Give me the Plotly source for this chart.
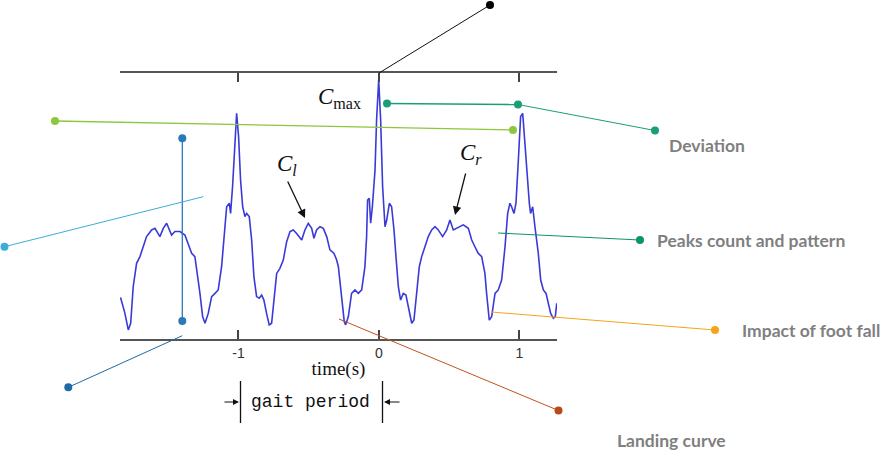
import plotly.graph_objects as go

# ---------------- data ----------------
time_s = [-1.839, -1.808, -1.784, -1.767, -1.749, -1.725, -1.701, -1.677, -1.654, -1.618,
          -1.594, -1.559, -1.535, -1.511, -1.488, -1.476, -1.452, -1.416, -1.381, -1.357,
          -1.333, -1.310, -1.293, -1.274, -1.255, -1.238, -1.215, -1.191, -1.167, -1.144,
          -1.120, -1.096, -1.084, -1.065, -1.056, -1.042, -1.025, -1.013, -0.999, -0.985,
          -0.970, -0.954, -0.942, -0.923, -0.906, -0.890, -0.871, -0.852, -0.835, -0.819,
          -0.800, -0.781, -0.764, -0.747, -0.728, -0.705, -0.681, -0.657, -0.633, -0.610,
          -0.586, -0.550, -0.527, -0.503, -0.479, -0.463, -0.444, -0.420, -0.396, -0.372,
          -0.349, -0.320, -0.301, -0.289, -0.278, -0.261, -0.247, -0.237, -0.218, -0.195,
          -0.171, -0.147, -0.123, -0.100, -0.088, -0.081, -0.069, -0.059, -0.047, -0.028,
          -0.017, -0.002, 0.012, 0.026, 0.043, 0.055, 0.074, 0.090, 0.107, 0.121,
          0.138, 0.154, 0.173, 0.192, 0.209, 0.233, 0.249, 0.268, 0.287, 0.304,
          0.327, 0.351, 0.375, 0.399, 0.422, 0.453, 0.482, 0.505, 0.529, 0.553,
          0.577, 0.600, 0.636, 0.660, 0.683, 0.707, 0.731, 0.754, 0.766, 0.785,
          0.802, 0.826, 0.849, 0.873, 0.897, 0.916, 0.932, 0.944, 0.961, 0.975,
          0.992, 1.008, 1.023, 1.039, 1.056, 1.070, 1.079, 1.094, 1.110, 1.134,
          1.151, 1.170, 1.189, 1.205, 1.222, 1.241, 1.255, 1.265]
amplitude = [15.6, 9.6, 3.4, 5.9, 19.6, 28.4, 30.9, 34.6, 38.4, 40.9,
             41.5, 38.4, 41.5, 43.4, 40.9, 39.0, 40.3, 40.3, 39.0, 35.3,
             32.1, 30.9, 24.6, 17.1, 8.4, 5.9, 9.6, 15.9, 17.1, 18.4,
             27.1, 40.9, 49.6, 50.9, 47.1, 57.1, 75.9, 84.6, 75.9, 59.6,
             49.6, 45.9, 47.1, 45.9, 37.1, 23.4, 15.9, 15.3, 16.5, 14.6,
             9.6, 5.3, 5.9, 14.6, 24.6, 26.5, 29.6, 36.5, 40.3, 40.9,
             39.6, 37.1, 40.9, 43.4, 41.5, 37.8, 40.9, 42.1, 41.5, 38.4,
             33.4, 32.1, 29.6, 27.1, 22.1, 12.1, 6.5, 5.3, 8.4, 17.1,
             18.4, 17.1, 18.4, 27.1, 38.4, 52.1, 52.8, 43.4, 49.6, 63.4,
             82.1, 97.1, 82.1, 57.1, 42.1, 44.6, 50.9, 49.6, 40.9, 30.9,
             19.6, 14.6, 17.1, 16.5, 12.1, 5.9, 7.1, 17.1, 27.1, 30.9,
             34.6, 38.4, 40.9, 42.1, 40.9, 38.4, 40.9, 44.6, 40.9, 41.5,
             42.1, 42.8, 41.5, 37.1, 34.6, 32.1, 30.9, 24.6, 17.1, 7.1,
             8.4, 17.1, 18.4, 22.1, 34.6, 47.1, 50.9, 49.6, 47.1, 50.9,
             67.1, 83.4, 84.6, 73.4, 58.4, 50.9, 47.1, 49.6, 42.1, 32.1,
             22.1, 18.4, 17.1, 13.4, 9.6, 7.8, 8.4, 13.4]
tick_vals = [-1, 0, 1]
tick_text = ["-1", "0", "1"]
callout_labels = ["Deviation", "Peaks count and pattern", "Impact of foot fall", "Landing curve"]

# ---------------- layout geometry ----------------
W, H = 891, 463
L, R, T, B = 120, 557, 73, 339


def px(x):
    return (x - L) / (R - L)


def py(y):
    return (B - y) / (B - T)


shapes = []


def seg(x0, y0, x1, y1, color, width=1):
    shapes.append(dict(type="line", xref="paper", yref="paper",
                       x0=px(x0), y0=py(y0), x1=px(x1), y1=py(y1),
                       line=dict(color=color, width=width), layer="above"))


def dot(x, y, color, r=4):
    shapes.append(dict(type="circle", xref="paper", yref="paper",
                       x0=px(x - r), x1=px(x + r), y0=py(y + r), y1=py(y - r),
                       fillcolor=color, line=dict(width=0), layer="above"))


# black (C max)
seg(379, 73, 490, 5, "#111111", 1)
dot(490, 5, "#000000")
# light green
seg(55, 121, 513, 130, "#8dc63f", 1.3)
dot(55, 121, "#8dc63f")
dot(513, 130, "#8dc63f")
# deviation (teal)
seg(387, 103.5, 518, 104.5, "#1b9e77", 1.5)
seg(518, 104.5, 655, 130.5, "#1b9e77", 1)
dot(387, 103.5, "#1b9e77")
dot(518, 104.5, "#1b9e77")
dot(655, 130.5, "#1b9e77")
# peaks count
seg(498, 233, 640, 240, "#0f9466", 1.2)
dot(640, 240, "#0f9466")
# impact of foot fall (orange)
seg(491, 312, 715, 330, "#f5a31a", 1)
dot(715, 330, "#f5a31a")
# landing curve (brown)
seg(339, 319, 558.5, 410.5, "#c3521d", 1)
dot(558.5, 410.5, "#b94a18")
# blue vertical
seg(182.3, 138.3, 182.3, 321, "#2a7ab9", 1.3)
dot(182.3, 138.3, "#2a7ab9")
dot(182.3, 321, "#2a7ab9")
# light blue
seg(203.3, 196.7, 4.5, 246.7, "#3aaed8", 1)
dot(4.5, 246.7, "#3aaed8")
# dark blue
seg(182.3, 335.7, 68.3, 387.3, "#1f6aa5", 1)
dot(68.3, 387.3, "#1f6aa5")
# gait period bars
seg(240.5, 381, 240.5, 423, "#111111", 1.3)
seg(382.5, 381, 382.5, 423, "#111111", 1.3)

annotations = []
label_font = dict(family="Lato", size=17.5, color="#7f7f7f")
label_pos = [(667, 145), (655, 240), (740, 330), (615, 440)]
for text, (x, y) in zip(callout_labels, label_pos):
    annotations.append(dict(xref="paper", yref="paper", x=px(x), y=py(y),
                            text="<b>%s</b>" % text, showarrow=False,
                            xanchor="left", yanchor="middle", font=label_font))

serif = "Liberation Serif"
annotations += [
    dict(xref="paper", yref="paper", x=px(363), y=py(98), xanchor="right", yanchor="middle",
         text="<i>C</i><sub>max</sub>", showarrow=False, font=dict(family=serif, size=23, color="#111")),
    dict(xref="paper", yref="paper", x=px(287), y=py(165), xanchor="center", yanchor="middle",
         text="<i>C</i><sub><i>l</i></sub>", showarrow=False, font=dict(family=serif, size=23, color="#111")),
    dict(xref="paper", yref="paper", x=px(471), y=py(154), xanchor="center", yanchor="middle",
         text="<i>C</i><sub><i>r</i></sub>", showarrow=False, font=dict(family=serif, size=23, color="#111")),
    dict(xref="paper", yref="paper", x=px(305), y=py(218), ax=-18, ay=-38, text="",
         showarrow=True, arrowhead=2, arrowsize=1.3, arrowwidth=1.3, arrowcolor="#111"),
    dict(xref="paper", yref="paper", x=px(455), y=py(215), ax=11, ay=-43, text="",
         showarrow=True, arrowhead=2, arrowsize=1.3, arrowwidth=1.3, arrowcolor="#111"),
    dict(xref="paper", yref="paper", x=px(239), y=py(402), ax=-16, ay=0, text="",
         showarrow=True, arrowhead=2, arrowsize=1.0, arrowwidth=1.2, arrowcolor="#111"),
    dict(xref="paper", yref="paper", x=px(384), y=py(402), ax=17, ay=0, text="",
         showarrow=True, arrowhead=2, arrowsize=1.0, arrowwidth=1.2, arrowcolor="#111"),
    dict(xref="paper", yref="paper", x=px(310), y=py(402), xanchor="center", yanchor="middle",
         text="gait period", showarrow=False,
         font=dict(family="Liberation Mono", size=18, color="#111")),
]

fig = go.Figure()
fig.add_trace(go.Scatter(x=time_s, y=amplitude, mode="lines",
                         line=dict(color="#3a3ad8", width=1.6), showlegend=False,
                         hoverinfo="skip"))

fig.update_layout(
    width=W, height=H,
    margin=dict(l=L, r=W - R, t=T, b=H - B, pad=0),
    paper_bgcolor="white", plot_bgcolor="white",
    showlegend=False,
    shapes=shapes, annotations=annotations,
    xaxis=dict(range=[-1.843, 1.267], showline=True, linecolor="#555555", linewidth=2,
               mirror="ticks", ticks="inside", ticklen=9, tickwidth=2, tickcolor="#444444",
               tickvals=tick_vals, ticktext=tick_text, showgrid=False, zeroline=False,
               tickfont=dict(family="Liberation Sans", size=14, color="#333333"),
               title=dict(text="time(s)", standoff=2,
                          font=dict(family=serif, size=19, color="#111111"))),
    yaxis=dict(range=[0, 99.75], visible=False, fixedrange=True),
)

fig.write_html("out.html", config={"displayModeBar": False},
               post_script="document.body.style.margin='0';document.body.style.overflow='hidden';")
